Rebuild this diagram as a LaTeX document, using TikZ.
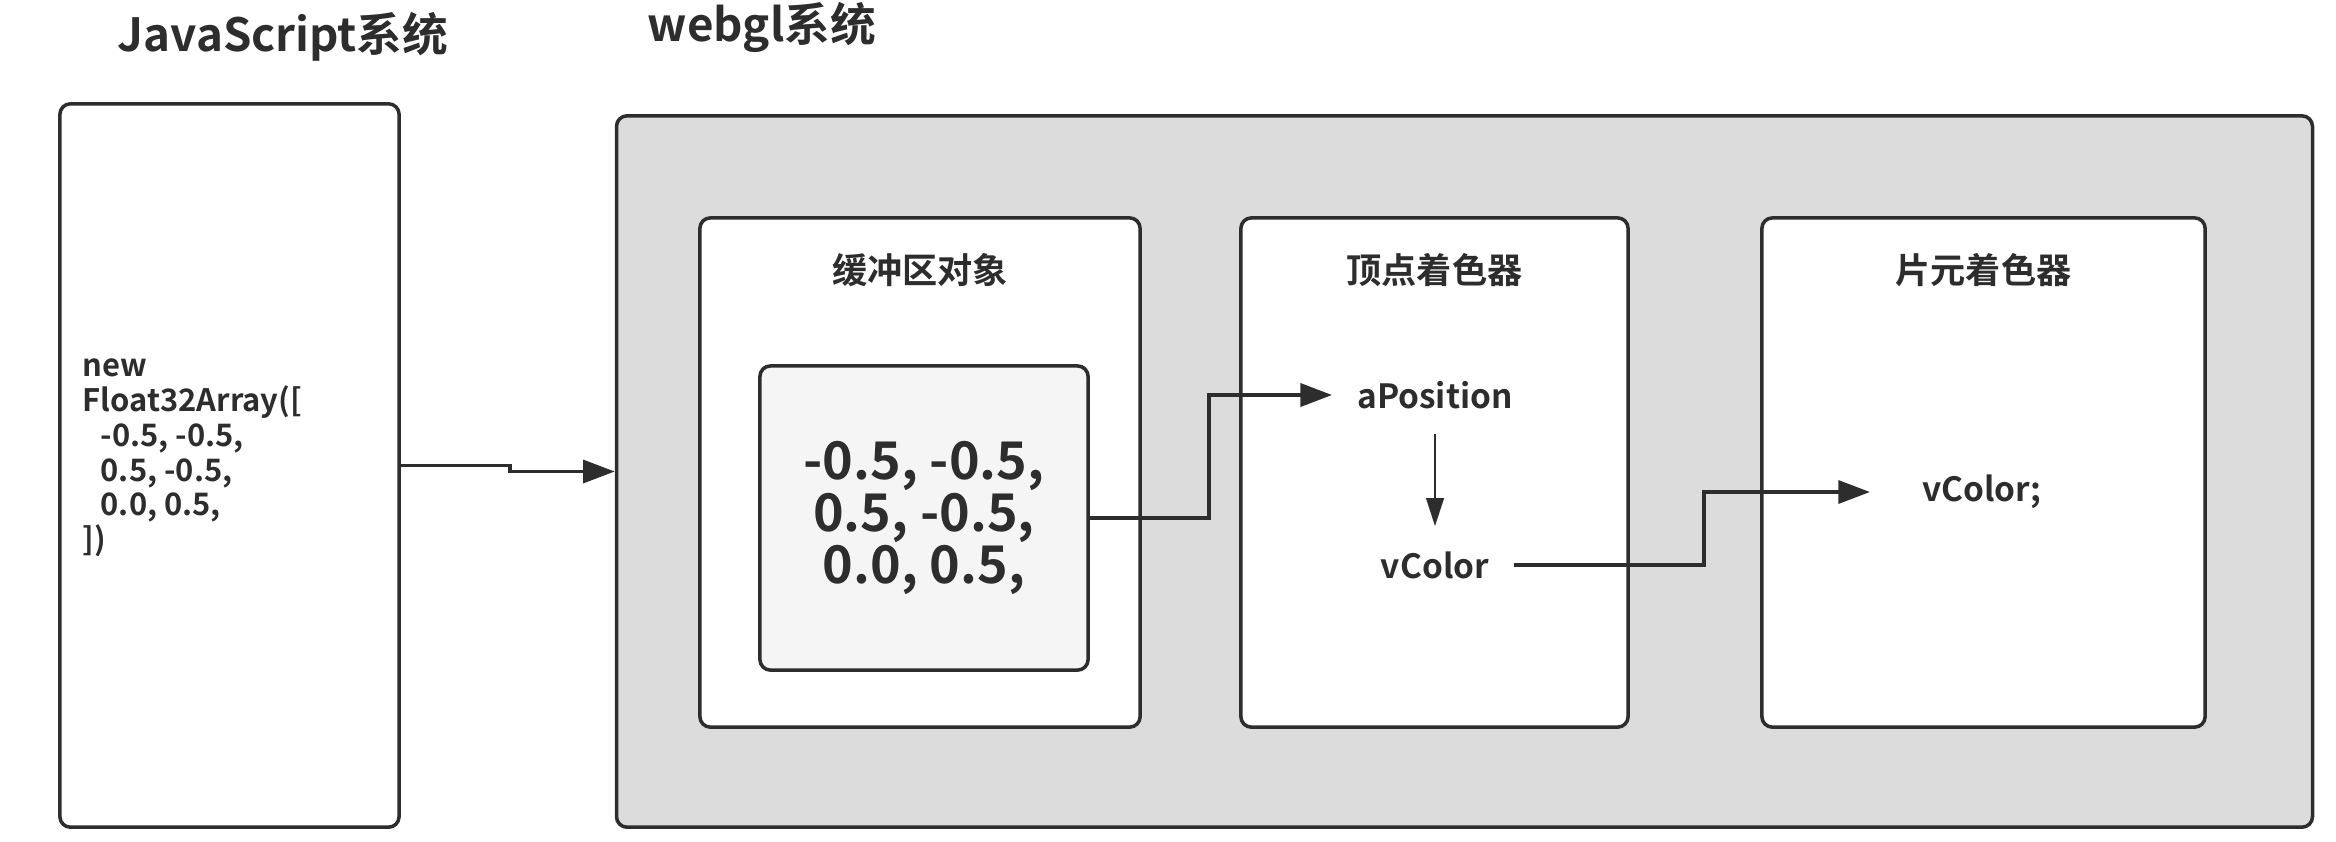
\documentclass[tikz,border=0pt]{standalone}
\usepackage{fontspec}
\setmainfont{Noto Sans CJK SC}[BoldFont={Noto Sans CJK SC Bold}]
\usetikzlibrary{positioning, arrows.meta}
\definecolor{darkline}{RGB}{45,45,45}
\definecolor{panelgray}{RGB}{220,220,220}
\definecolor{cellgray}{RGB}{245,245,245}

\begin{document}
\begin{tikzpicture}[x=0.01cm, y=-0.01cm, font=\bfseries, text=darkline,
  box/.style={draw=darkline, line width=1pt, rounded corners=3pt, fill=white, inner sep=0pt},
  flow/.style={-{Triangle[length=9pt,width=6.5pt]}, line width=1.1pt, darkline},
  term/.style={inner sep=7pt, font=\bfseries\fontsize{9.5}{11}\selectfont}]
  \useasboundingbox (0,0) rectangle (2336,841);

  % two systems
  \node[box, minimum width=3.39cm, minimum height=7.23cm] (js) at (229.5,465.5) {};
  \node[box, fill=panelgray, minimum width=16.95cm, minimum height=7.11cm] (gl) at (1464.5,471.5) {};
  \node[font=\bfseries\fontsize{13}{15}\selectfont] (jstitle) at (283,37) {JavaScript系统};
  \node[font=\bfseries\fontsize{13}{15}\selectfont] (gltitle) at (762,27) {webgl系统};

  \node[align=left, anchor=west, inner sep=0pt, font=\bfseries\fontsize{8.8}{9.9}\selectfont] (arr) at (82,458)
    {new\\Float32Array([\\\hspace*{0.18cm}-0.5, -0.5,\\\hspace*{0.18cm}0.5, -0.5,\\\hspace*{0.18cm}0.0, 0.5,\\])};

  % stages inside webgl
  \node[box, minimum width=4.40cm, minimum height=5.09cm] (buf) at (920,472.5) {};
  \node[box, minimum width=3.87cm, minimum height=5.09cm] (vs) at (1434.5,472.5) {};
  \node[box, minimum width=4.43cm, minimum height=5.09cm] (fs) at (1983.5,472.5) {};
  \node[font=\bfseries\fontsize{10}{12}\selectfont, below=0.25cm of buf.north] (buftitle) {缓冲区对象};
  \node[font=\bfseries\fontsize{10}{12}\selectfont, below=0.25cm of vs.north] (vstitle) {顶点着色器};
  \node[font=\bfseries\fontsize{10}{12}\selectfont, below=0.25cm of fs.north] (fstitle) {片元着色器};

  \node[box, fill=cellgray, minimum width=3.28cm, minimum height=3.04cm] (data) at (924,518) {};
  \node[align=center, font=\bfseries\fontsize{14.8}{14.8}\selectfont] (nums) at (data.center)
    {-0.5, -0.5,\\0.5, -0.5,\\0.0, 0.5,};

  \node[term] (apos) at (1435,395) {aPosition};
  \node[term] (vcol) at (1435,565) {vColor};
  \node[term, anchor=west] (fcol) at (1897,492) {vColor;};

  % connectors
  \draw[flow] (js.east) -- ++(109,0) |- (gl.west);
  \draw[flow] (data.east) -- ++(119,0) |- (apos.west);
  \draw[flow, line width=0.7pt, -{Triangle[length=8pt,width=5pt]}] (apos) -- (vcol);
  \draw[flow, shorten >=0.27cm] (vcol.east) -- ++(190,0) |- (fcol.west);
\end{tikzpicture}
\end{document}
